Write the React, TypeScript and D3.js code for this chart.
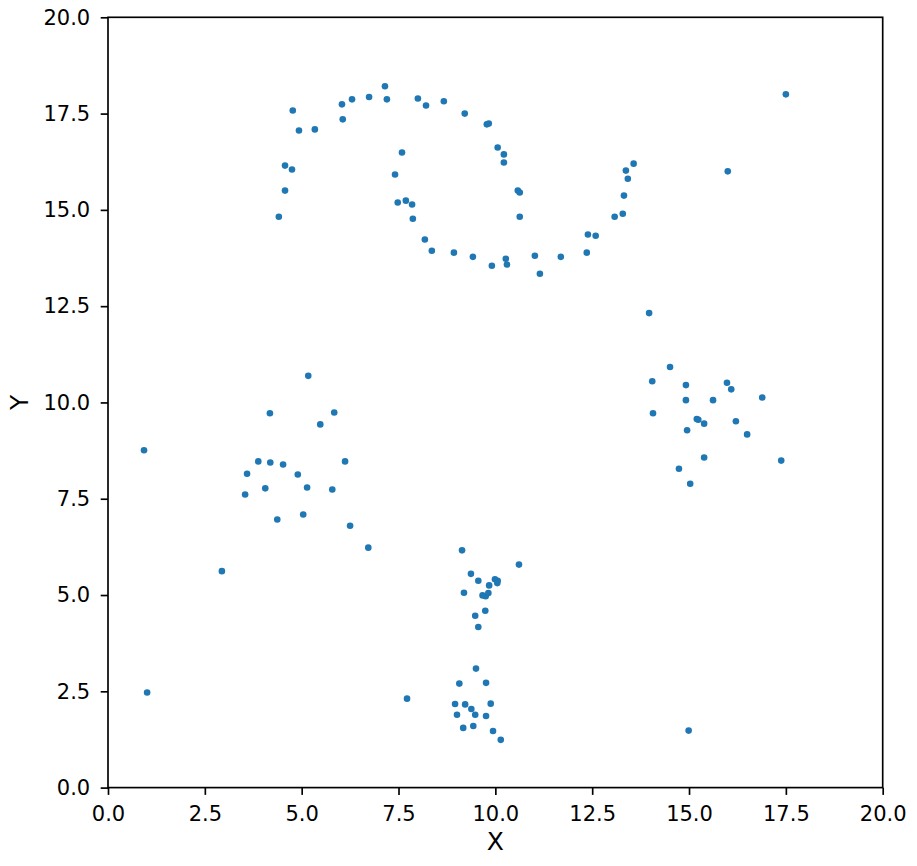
import * as d3 from "d3";
import { useEffect, useRef } from "react";

// point coordinates
const xs = [
  7.15, 6.74, 6.3, 6.04, 7.2, 8.0, 8.21, 8.67, 4.77, 4.93, 5.34, 6.06, 9.21, 9.78, 9.83,
  10.06, 10.22, 10.22, 7.59, 4.57, 4.75, 4.57, 7.41, 4.41, 7.48, 7.69, 7.85, 7.87, 10.58,
  10.63, 10.63, 8.18, 8.36, 8.93, 9.42, 9.91, 10.27, 10.3, 11.02, 11.15, 11.69, 12.36,
  12.39, 12.59, 13.08, 13.29, 13.32, 13.42, 13.37, 13.57, 16.0, 17.5,
  5.17, 4.18, 5.84, 5.48, 3.88, 4.19, 4.52, 6.12, 3.59, 4.9, 4.06, 5.14, 5.79, 3.54, 4.37,
  5.04, 6.25, 6.72,
  0.93, 2.94, 1.01, 7.72, 14.99, 13.97,
  14.51, 14.05, 14.92, 15.98, 16.09, 16.89, 14.92, 15.62, 14.07, 15.2, 15.24, 15.39, 16.21,
  14.95, 16.5, 15.39, 17.38, 14.74, 15.03,
  9.14, 10.61, 9.37, 9.56, 9.99, 10.06, 10.05, 9.84, 9.19, 9.67, 9.75, 9.82, 9.74, 9.48,
  9.56,
  9.5, 9.07, 9.76, 8.96, 9.22, 9.38, 9.88, 9.01, 9.48, 9.76, 9.17, 9.43, 9.94, 10.14,
];
const ys = [
  18.21, 17.93, 17.87, 17.74, 17.87, 17.89, 17.71, 17.82, 17.58, 17.06, 17.09, 17.35, 17.5,
  17.22, 17.24, 16.62, 16.44, 16.23, 16.49, 16.15, 16.05, 15.5, 15.92, 14.82, 15.19, 15.24,
  15.14, 14.77, 15.5, 15.45, 14.82, 14.23, 13.94, 13.89, 13.78, 13.55, 13.73, 13.58, 13.81,
  13.34, 13.78, 13.89, 14.36, 14.33, 14.82, 14.9, 15.37, 15.81, 16.02, 16.2, 16.0, 18.0,
  10.69, 9.72, 9.74, 9.43, 8.47, 8.44, 8.39, 8.47, 8.15, 8.13, 7.77, 7.79, 7.74, 7.61, 6.96,
  7.09, 6.8, 6.23,
  8.76, 5.62, 2.47, 2.31, 1.48, 12.32,
  10.92, 10.55, 10.45, 10.51, 10.34, 10.13, 10.06, 10.06, 9.72, 9.57, 9.55, 9.45, 9.51,
  9.28, 9.17, 8.57, 8.49, 8.28, 7.89,
  6.16, 5.79, 5.55, 5.37, 5.41, 5.37, 5.31, 5.25, 5.06, 4.99, 4.97, 5.05, 4.59, 4.46, 4.17,
  3.09, 2.7, 2.72, 2.17, 2.16, 2.04, 2.18, 1.89, 1.89, 1.86, 1.55, 1.6, 1.47, 1.24,
];
const ticks = [0, 2.5, 5, 7.5, 10, 12.5, 15, 17.5, 20];

export default function App() {
  const ref = useRef<SVGSVGElement>(null);

  useEffect(() => {
    document.body.style.margin = "0";
    const svg = d3.select(ref.current);
    svg.selectAll("*").remove();

    const left = 108, right = 882.7, top = 17.3, bottom = 787.6;
    const x = d3.scaleLinear().domain([0, 20]).range([left, right]);
    const y = d3.scaleLinear().domain([0, 20]).range([bottom, top]);
    const font = "'DejaVu Sans', sans-serif";

    svg
      .append("g")
      .selectAll("circle")
      .data(xs.map((v, i) => [v, ys[i]]))
      .enter()
      .append("circle")
      .attr("cx", (d) => x(d[0]))
      .attr("cy", (d) => y(d[1]))
      .attr("r", 3.3)
      .attr("fill", "#1f77b4");

    // frame
    svg
      .append("rect")
      .attr("x", left)
      .attr("y", top)
      .attr("width", right - left)
      .attr("height", bottom - top)
      .attr("fill", "none")
      .attr("stroke", "#000")
      .attr("stroke-width", 1.67);

    const xAxis = d3
      .axisBottom(x)
      .tickValues(ticks)
      .tickFormat(d3.format(".1f"))
      .tickSize(7.3)
      .tickPadding(11.5);
    const gx = svg.append("g").attr("transform", `translate(0,${bottom})`).call(xAxis);

    const yAxis = d3
      .axisLeft(y)
      .tickValues(ticks)
      .tickFormat(d3.format(".1f"))
      .tickSize(7.3)
      .tickPadding(10.5);
    const gy = svg.append("g").attr("transform", `translate(${left},0)`).call(yAxis);

    [gx, gy].forEach((g) => {
      g.select(".domain").remove();
      g.selectAll("line").attr("stroke", "#000").attr("stroke-width", 1.67);
      g.selectAll("text")
        .attr("fill", "#000")
        .style("font-family", font)
        .style("font-size", "21px");
    });

    svg
      .append("text")
      .attr("x", (left + right) / 2)
      .attr("y", 850)
      .attr("text-anchor", "middle")
      .style("font-family", font)
      .style("font-size", "25px")
      .text("X");

    svg
      .append("text")
      .attr("transform", `translate(28,${(top + bottom) / 2}) rotate(-90)`)
      .attr("text-anchor", "middle")
      .style("font-family", font)
      .style("font-size", "25px")
      .text("Y");
  }, []);

  return <svg ref={ref} width={917} height={866} style={{ display: "block", background: "#fff" }} />;
}
